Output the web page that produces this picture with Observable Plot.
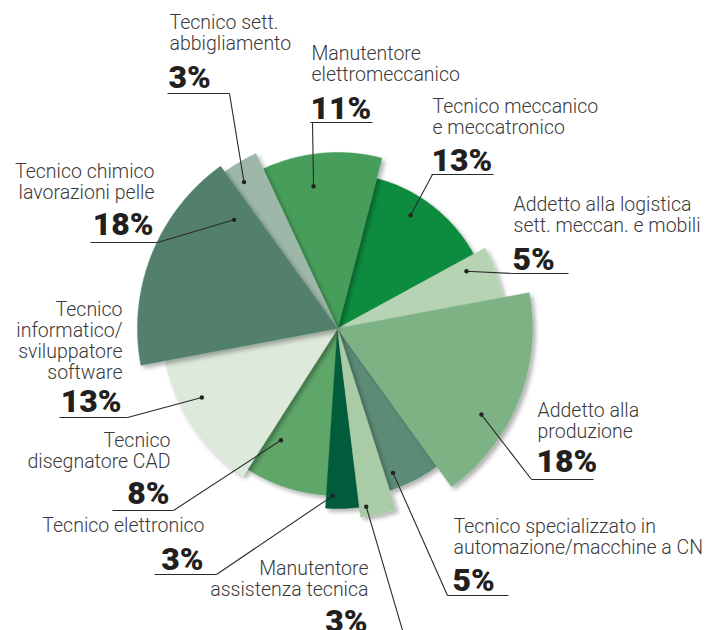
<!DOCTYPE html>
<html><head><meta charset="utf-8">
<script src="https://cdn.jsdelivr.net/npm/d3@7"></script>
<script src="https://cdn.jsdelivr.net/npm/@observablehq/plot@0.6"></script>
<style>
html,body{margin:0;padding:0;background:#fff;overflow:hidden;}
#chart svg{display:block;}
</style></head><body><div id="chart"></div>
<script>
// ---- data (clockwise from the top) ----
const categories = [
  "Manutentore\nelettromeccanico",
  "Tecnico meccanico\ne meccatronico",
  "Addetto alla logistica\nsett. meccan. e mobili",
  "Addetto alla\nproduzione",
  "Tecnico specializzato in\nautomazione/macchine a CN",
  "Manutentore\nassistenza tecnica",
  "Tecnico elettronico",
  "Tecnico\ndisegnatore CAD",
  "Tecnico\ninformatico/\nsviluppatore\nsoftware",
  "Tecnico chimico\nlavorazioni pelle",
  "Tecnico sett.\nabbigliamento"
];
const values = [11, 13, 5, 18, 5, 3, 3, 8, 13, 18, 3];
const percentLabels = values.map(v => v + "%");
// decorative radial extent of each wedge (px)
const extents = [176, 155, 168, 195, 170, 190, 180, 167, 175, 200, 193];
const colors = ["#469e5a", "#0f8c41", "#b6d4b4", "#7db384", "#5b8b76", "#a9cba6",
                "#005c3b", "#5ea767", "#dde9db", "#53806c", "#9db7a8"];

// ---- layout ----
const W = 705, H = 630;
const center = [337, 328];
const startAngle = -25; // degrees, clockwise from north
const lineGap = 21;
const labelLayout = [
  {x: 311, y: 59,  anchor: "start", pctY: 118, ux: [310, 372], elbow: [312, 122], dot: [0.39, 0.82]},
  {x: 432, y: 112, anchor: "start", pctY: 170, ux: [431, 493], elbow: [432, 174], dot: [0.39, 0.87]},
  {x: 513, y: 210, anchor: "start", pctY: 269, ux: [513, 568], elbow: [513, 273], dot: [0.26, 0.84]},
  {x: 537, y: 416, anchor: "start", pctY: 471, ux: [531, 593], elbow: [531, 479], dot: [0.64, 0.86]},
  {x: 453, y: 532, anchor: "start", pctY: 590, ux: [447, 508], elbow: [447, 595], dot: [0.82, 0.91]},
  {x: 368, y: 574, anchor: "end",   pctY: 631, ux: [330, 405], elbow: [405, 640], dot: [0.80, 0.95]},
  {x: 204, y: 531, anchor: "end",   pctY: 569, ux: [154, 216], elbow: [216, 574], dot: [0.80, 0.93]},
  {x: 170, y: 446, anchor: "end",   pctY: 503, ux: [112, 173], elbow: [173, 510], dot: [0.80, 0.75]},
  {x: 122, y: 315, anchor: "end",   pctY: 411, ux: [59, 127],  elbow: [127, 417], dot: [0.65, 0.87]},
  {x: 154, y: 177, anchor: "end",   pctY: 234, ux: [90, 157],  elbow: [157, 242], dot: [0.88, 0.75]},
  {x: 169, y: 28,  anchor: "start", pctY: 87,  ux: [167, 229], elbow: [229, 93],  dot: [0.30, 0.90]}
];

const rad = Math.PI / 180;
const arcs = d3.pie().sort(null).value(d => d)
  .startAngle(startAngle * rad).endAngle((startAngle + 360) * rad)(values);
const polar = (a, r) => ({x: center[0] + r * Math.sin(a), y: center[1] - r * Math.cos(a)});

function wedge(i) {
  const {startAngle: a0, endAngle: a1} = arcs[i];
  const r = extents[i];
  const n = Math.max(2, Math.ceil((a1 - a0) / rad));
  const pts = [{x: center[0], y: center[1]}];
  for (let k = 0; k <= n; k++) pts.push(polar(a0 + (a1 - a0) * k / n, r));
  pts.push({x: center[0], y: center[1]});
  return pts;
}

const order = d3.range(values.length).sort((a, b) => extents[a] - extents[b]);
const wedgeMarks = order.map(i => Plot.line(wedge(i), {
  x: "x", y: "y", fill: colors[i], stroke: colors[i], strokeWidth: 0.5, curve: "linear-closed"
}));

const dots = values.map((v, i) => {
  const {startAngle: a0, endAngle: a1} = arcs[i];
  const L = labelLayout[i];
  return polar(a0 + (a1 - a0) * L.dot[0], extents[i] * L.dot[1]);
});
const links = [];
values.forEach((v, i) => {
  const L = labelLayout[i];
  links.push({x1: dots[i].x, y1: dots[i].y, x2: L.elbow[0], y2: L.elbow[1]});
  links.push({x1: L.ux[0], y1: L.elbow[1], x2: L.ux[1], y2: L.elbow[1]});
});

const nameRows = [];
categories.forEach((c, i) => {
  const L = labelLayout[i];
  c.split("\n").forEach((t, k) => nameRows.push({x: L.x, y: L.y + k * lineGap, text: t, anchor: L.anchor}));
});
const pctRows = percentLabels.map((t, i) => ({x: labelLayout[i].x - 1, y: labelLayout[i].pctY, text: t, anchor: labelLayout[i].anchor}));

const nameStyle = {x: "x", y: "y", text: "text", lineAnchor: "bottom", fontSize: 19.5, fontWeight: 300, fill: "#3a3a3a"};
const pctStyle = {x: "x", y: "y", text: "text", lineAnchor: "bottom", fontSize: 32, fontWeight: 900, fill: "#231f20"};

const chart = Plot.plot({
  width: W, height: H,
  margin: 0,
  x: {domain: [0, W], range: [0, W], axis: null},
  y: {domain: [0, H], range: [0, H], axis: null},
  style: {fontFamily: "Roboto, 'Noto Sans', sans-serif", background: "#fff", overflow: "hidden"},
  marks: [
    ...wedgeMarks,
    Plot.link(links, {x1: "x1", y1: "y1", x2: "x2", y2: "y2", stroke: "#2a2a2a", strokeWidth: 1.1}),
    Plot.dot(dots, {x: "x", y: "y", r: 2.2, fill: "#222", stroke: null}),
    Plot.text(nameRows.filter(d => d.anchor === "start"), {...nameStyle, textAnchor: "start"}),
    Plot.text(nameRows.filter(d => d.anchor === "end"), {...nameStyle, textAnchor: "end"}),
    Plot.text(pctRows.filter(d => d.anchor === "start"), {...pctStyle, textAnchor: "start"}),
    Plot.text(pctRows.filter(d => d.anchor === "end"), {...pctStyle, textAnchor: "end"})
  ]
});

// soft drop shadow under the wedges
const ns = "http://www.w3.org/2000/svg";
const defs = document.createElementNS(ns, "defs");
defs.innerHTML = '<filter id="wedgeShadow" x="-20%" y="-20%" width="150%" height="150%">' +
  '<feDropShadow dx="3" dy="3" stdDeviation="2" flood-color="#000" flood-opacity="0.3"/></filter>';
chart.insertBefore(defs, chart.firstChild);
chart.querySelectorAll('g[aria-label="line"] path').forEach(p => p.setAttribute("filter", "url(#wedgeShadow)"));

document.getElementById("chart").appendChild(chart);
</script></body></html>
